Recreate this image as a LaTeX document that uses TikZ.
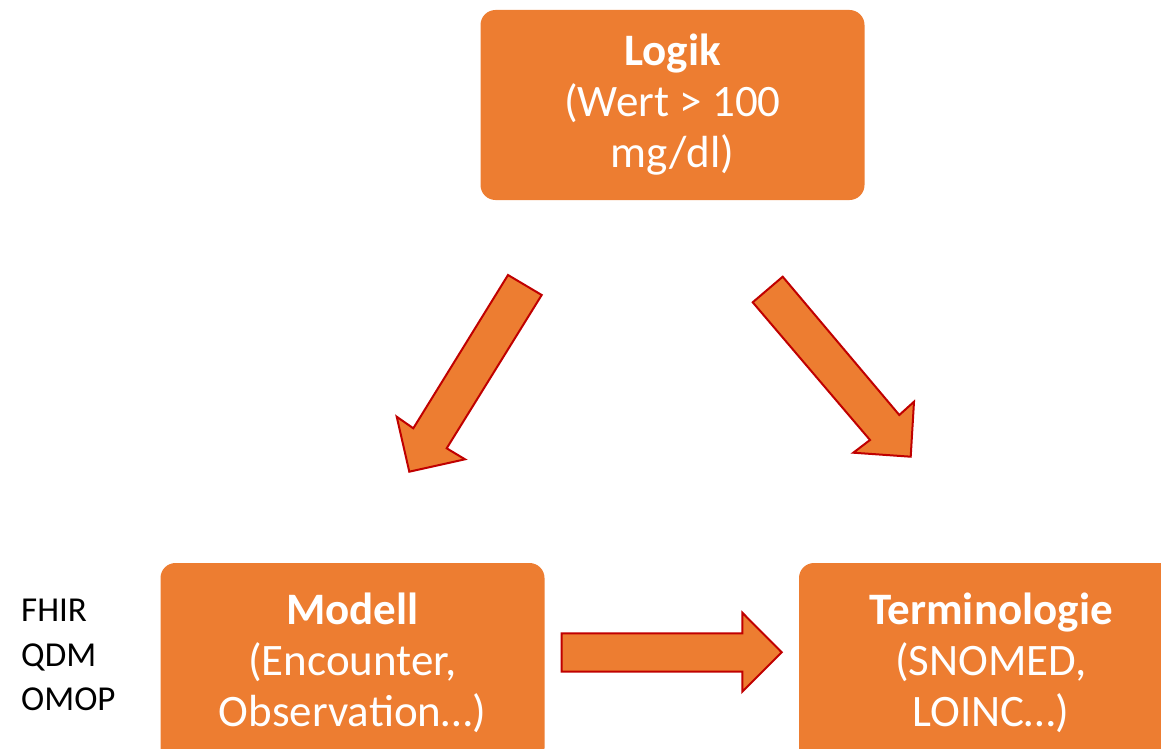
\documentclass[tikz,border=0pt]{standalone}
\usepackage{fontspec}
\setmainfont{Carlito}
\definecolor{boxorange}{HTML}{ED7D31}
\definecolor{arrowred}{HTML}{C00000}
\begin{document}
\begin{tikzpicture}[x=1pt,y=-1pt,
  card/.style={fill=boxorange, rounded corners=15pt, minimum width=384pt,
    minimum height=190pt, text=white, align=center, inner sep=0pt,
    font=\fontsize{45}{51}\selectfont},
  blockarrow/.style={fill=boxorange, draw=arrowred, line width=2pt, line join=miter},
  sidelist/.style={align=left, inner sep=0pt, font=\fontsize{35}{44.5}\selectfont}]
\useasboundingbox (0,0) rectangle (1161,749);

% the three concept boxes
\node[card] (logik) at (672.5,105) {\textbf{Logik}\\(Wert > 100\\mg/dl)};
\node[card, minimum height=200pt] (modell) at (352.5,663) {\textbf{Modell}\\(Encounter,\\Observation…)};
\node[card, minimum height=200pt] (termino) at (991,663) {\textbf{Terminologie}\\(SNOMED,\\LOINC…)};

% list of data models beside the model box
\node[sidelist, anchor=north west] (models) at (21,599) {FHIR\\QDM\\OMOP};

% block arrows
\draw[blockarrow] (508,275) -- (541.7,295) -- (446.7,448.3) -- (465,459.3)
  -- (409.3,471.7) -- (396.7,416.7) -- (413.3,428.3) -- cycle;
\draw[blockarrow] (782.7,276.7) -- (899.3,415) -- (914,401.7) -- (910.7,456.7)
  -- (853.3,452.7) -- (870,440) -- (752.7,302.3) -- cycle;
\draw[blockarrow] (561.7,633.3) -- (742.3,633.3) -- (742.3,612.7) -- (781.7,652.3)
  -- (742.3,691.7) -- (742.3,671.7) -- (561.7,671.7) -- cycle;
\end{tikzpicture}
\end{document}
